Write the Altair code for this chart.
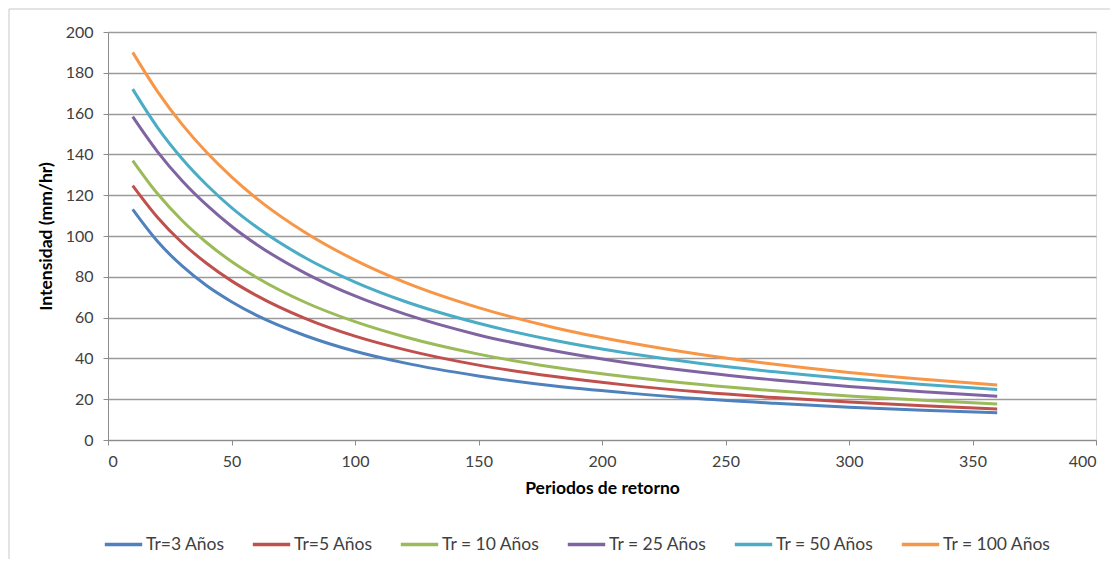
import altair as alt
import pandas as pd

duracion = [10, 20, 30, 40, 50, 60, 80, 100, 120, 150, 180, 210, 240, 270, 300, 330, 360]

tr3 = [113.0, 97.4, 85.3, 75.6, 67.8, 61.2, 51.1, 43.5, 37.8, 31.4, 26.6, 23.1, 20.2, 18.0, 16.1, 14.6, 13.3]
tr5 = [124.7, 109.2, 96.7, 86.5, 78.0, 70.9, 59.5, 50.9, 44.3, 36.7, 31.2, 26.9, 23.5, 20.8, 18.6, 16.8, 15.2]
tr10 = [137.0, 120.8, 107.6, 96.7, 87.5, 79.8, 67.4, 58.0, 50.6, 42.1, 35.8, 31.0, 27.2, 24.1, 21.6, 19.5, 17.7]
tr25 = [158.5, 141.4, 127.1, 115.1, 104.8, 96.0, 81.7, 70.6, 61.8, 51.5, 43.9, 37.9, 33.2, 29.4, 26.2, 23.6, 21.4]
tr50 = [172.0, 153.3, 137.9, 125.0, 113.9, 104.5, 89.2, 77.4, 68.0, 57.2, 49.0, 42.6, 37.5, 33.4, 30.0, 27.2, 24.8]
tr100 = [190.0, 170.9, 154.7, 140.9, 129.0, 118.6, 101.6, 88.2, 77.4, 64.9, 55.3, 47.9, 41.9, 37.1, 33.1, 29.8, 27.0]

series_names = ["Tr=3 Años", "Tr=5 Años", "Tr = 10 Años", "Tr = 25 Años", "Tr = 50 Años", "Tr = 100 Años"]
series_values = [tr3, tr5, tr10, tr25, tr50, tr100]
colors = ["#4F81BD", "#C0504D", "#9BBB59", "#8064A2", "#4BACC6", "#F79646"]

rows = []
for name, vals in zip(series_names, series_values):
    for t, v in zip(duracion, vals):
        rows.append({"t": t, "I": v, "serie": name})
df = pd.DataFrame(rows)

FONT = "Lato"
LABEL_COLOR = "#404040"

lines = alt.Chart(df).mark_line(strokeWidth=3, interpolate="monotone").encode(
    x=alt.X("t:Q", scale=alt.Scale(domain=[0, 400], nice=False),
            axis=alt.Axis(values=list(range(0, 401, 50)), title="Periodos de retorno",
                          grid=False, domainColor="#8c8c8c", tickColor="#8c8c8c",
                          tickSize=5, labelFontSize=16, labelColor=LABEL_COLOR, labelFont=FONT,
                          labelPadding=8, titleFont=FONT, titleFontSize=17.5, titleFontWeight="bold",
                          titleColor="#000000", titlePadding=10)),
    y=alt.Y("I:Q", scale=alt.Scale(domain=[0, 200], nice=False),
            axis=alt.Axis(values=list(range(0, 201, 20)), title="Intensidad (mm/hr)",
                          grid=True, gridColor="#9a9a9a", gridWidth=1.3,
                          domainColor="#8c8c8c", tickColor="#8c8c8c", tickSize=5,
                          labelFontSize=16, labelColor=LABEL_COLOR, labelFont=FONT, labelPadding=10,
                          titleFont=FONT, titleFontSize=17.5, titleFontWeight="bold",
                          titleColor="#000000", titlePadding=10)),
    color=alt.Color("serie:N", scale=alt.Scale(domain=series_names, range=colors),
                    legend=alt.Legend(title=None, orient="none", direction="horizontal",
                                      legendX=-5, legendY=492, symbolType="stroke",
                                      symbolSize=1400, symbolStrokeWidth=3.5,
                                      labelFont=FONT, labelFontSize=17.5, labelColor=LABEL_COLOR,
                                      columnPadding=20, labelOffset=2)),
    order=alt.Order("t:Q"),
)

border = alt.Chart(pd.DataFrame({"a": [0]})).mark_rect(
    fill=None, stroke="#c8c8c8", strokeWidth=1
).encode(x=alt.value(-99), x2=alt.value(1012), y=alt.value(-23), y2=alt.value(545))

chart = alt.layer(border, lines).properties(
    width=988, height=408,
    autosize=alt.AutoSizeParams(type="none"),
    padding={"left": 100, "top": 24, "right": 14, "bottom": 119},
).configure_view(stroke=None).configure(background="white")

chart.save("out.html", embed_options={"renderer": "svg", "actions": False})
